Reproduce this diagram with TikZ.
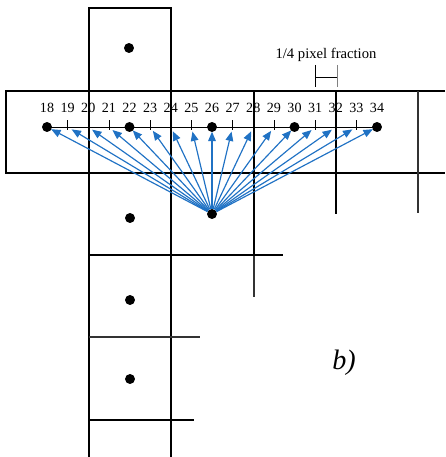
\documentclass[tikz,border=0pt]{standalone}
\usepackage{fontspec}
\setmainfont{Liberation Serif}
\usetikzlibrary{arrows.meta}
\definecolor{rayblue}{RGB}{32,114,196}

\begin{document}
\begin{tikzpicture}[x=0.03cm, y=-0.03cm,
    grid/.style={line width=1.1pt, black},
    thingrid/.style={line width=0.9pt, black!80},
    pix/.style={circle, fill=black, inner sep=0pt, minimum size=8.5pt},
    ray/.style={-{Triangle[length=8pt,width=6.5pt]}, rayblue, line width=1pt, shorten >=4pt},
    num/.style={anchor=base, inner sep=0pt, font=\fontsize{12}{14}\selectfont}
  ]
  \useasboundingbox (0,0) rectangle (445,457);

  % pixel grid
  \draw[grid] (89,457) -- (89,8) -- (171,8) -- (171,457);
  \draw[grid] (445,91) -- (6,91) -- (6,173) -- (445,173);
  \draw[grid] (254,91) -- (254,255);
  \draw[thingrid] (254,255) -- (254,297);
  \draw[grid] (336,91) -- (336,214);
  \draw[thingrid] (418,91) -- (418,213);
  \draw[grid] (89,255) -- (283,255);
  \draw[thingrid] (89,337) -- (200,337);
  \draw[grid] (89,420) -- (194,420);

  % sub-pixel positions
  \foreach \i in {18,...,34} {
    \coordinate (p\i) at ({47+(\i-18)*20.625},127);
    \node[num] (n\i) at ({47+(\i-18)*20.625},113) {\i};
  }
  \foreach \i in {19,21,...,33}
    \draw[thin] (p\i) ++(0,3) -- ++(0,-10);

  \node[pix] (src) at (212,214) {};
  \foreach \i in {18,...,34}
    \draw[ray] (src) -- (p\i);

  \draw[thin] (p18) -- (p34);
  \foreach \i in {18,22,26,30,34}
    \node[pix] (d\i) at (p\i) {};

  \node[pix] (top) at (129,48) {};
  \node[pix] (c1) at (130,218) {};
  \node[pix] (c2) at (130,300) {};
  \node[pix] (c3) at (130,379) {};

  % scale bar
  \draw[thin] (315,65) -- (315,87);
  \draw[thin, gray] (337,65) -- (337,87);
  \draw[thin] (315,77) -- (337,77);
  \node[anchor=base, inner sep=0pt, font=\fontsize{12.5}{14}\selectfont] (frac) at (326,59) {1/4 pixel fraction};

  \node[font=\fontsize{24}{28}\selectfont\itshape] (lab) at (344,363) {b)};
\end{tikzpicture}
\end{document}
